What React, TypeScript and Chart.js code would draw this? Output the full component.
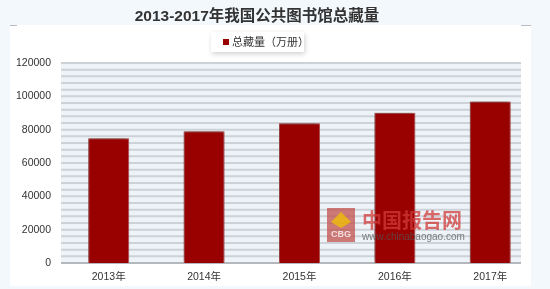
import React, { useEffect, useRef } from "react";
import { Chart, registerables } from "chart.js";

Chart.register(...registerables);

const categories = ["2013年", "2014年", "2015年", "2016年", "2017年"];
const seriesName = "总藏量（万册）";
const values = [74896, 79092, 83844, 90163, 96953];
const yTickValues = [0, 20000, 40000, 60000, 80000, 100000, 120000];
const titleText = "2013-2017年我国公共图书馆总藏量";
const watermarkCn = "中国报告网";
const watermarkUrl = "www.chinabaogao.com";

const FONT = "'Liberation Sans', Arial, 'Noto Sans CJK SC', sans-serif";

const decorPlugin = {
  id: "decor",
  beforeDraw(chart: any) {
    const { ctx, chartArea, scales } = chart;
    const y = scales.y;
    ctx.save();
    ctx.fillStyle = "#f3f8fc";
    ctx.fillRect(0, 0, chart.width, chart.height);
    ctx.fillStyle = "#ffffff";
    ctx.fillRect(10, 25, 521, 261);
    ctx.strokeStyle = "#b8bcc0";
    ctx.lineWidth = 1;
    ctx.beginPath();
    ctx.moveTo(10, 25.5);
    ctx.lineTo(17, 25.5);
    ctx.moveTo(521, 25.5);
    ctx.lineTo(531, 25.5);
    ctx.stroke();

    // title
    ctx.fillStyle = "#333333";
    ctx.font = "bold 15.5px " + FONT;
    ctx.textAlign = "center";
    ctx.textBaseline = "middle";
    ctx.fillText(titleText, 257, 17);

    // legend box
    ctx.save();
    ctx.shadowColor = "rgba(0,0,0,0.18)";
    ctx.shadowBlur = 5;
    ctx.shadowOffsetX = 1;
    ctx.shadowOffsetY = 2;
    ctx.fillStyle = "#ffffff";
    ctx.fillRect(211, 32, 93, 20);
    ctx.restore();
    ctx.fillStyle = "#990000";
    ctx.fillRect(223, 39, 6, 6);
    ctx.fillStyle = "#333333";
    ctx.font = "11px " + FONT;
    ctx.textAlign = "left";
    ctx.fillText(seriesName, 232, 42.5);

    // striped plot background
    const left = chartArea.left;
    const right = 521;
    const top = y.getPixelForValue(120000);
    const bottom = y.getPixelForValue(0);
    ctx.fillStyle = "#eef3f8";
    ctx.fillRect(left, top, right - left, bottom - top);
    ctx.strokeStyle = "#cdd2d8";
    ctx.lineWidth = 2;
    ctx.beginPath();
    for (let v = 0; v <= 120000; v += 4000) {
      const py = y.getPixelForValue(v);
      ctx.moveTo(left, py);
      ctx.lineTo(right, py);
    }
    ctx.stroke();
    ctx.strokeStyle = "#b4b8bd";
    ctx.lineWidth = 2;
    ctx.beginPath();
    ctx.moveTo(left, bottom);
    ctx.lineTo(right, bottom);
    ctx.stroke();
    ctx.restore();
  },
  beforeDatasetsDraw(chart: any) {
    const ctx = chart.ctx;
    ctx.save();
    ctx.shadowColor = "rgba(0,0,0,0.45)";
    ctx.shadowBlur = 4;
    ctx.shadowOffsetX = -1;
    ctx.shadowOffsetY = -1;
  },
  afterDatasetsDraw(chart: any) {
    const ctx = chart.ctx;
    ctx.restore();
    // watermark
    ctx.save();
    ctx.globalAlpha = 0.75;
    ctx.fillStyle = "#c0504d";
    ctx.fillRect(327, 208, 28, 34);
    ctx.fillStyle = "#f2c200";
    ctx.beginPath();
    ctx.moveTo(331, 222);
    ctx.lineTo(341, 212);
    ctx.lineTo(351, 222);
    ctx.lineTo(341, 228);
    ctx.closePath();
    ctx.fill();
    ctx.fillStyle = "#ffffff";
    ctx.font = "bold 9px " + FONT;
    ctx.textAlign = "center";
    ctx.textBaseline = "middle";
    ctx.fillText("CBG", 341, 235);
    ctx.fillStyle = "#d23a3a";
    ctx.font = "bold 20px 'Noto Sans CJK SC', sans-serif";
    ctx.textAlign = "left";
    ctx.fillText(watermarkCn, 362, 220);
    ctx.fillStyle = "#555555";
    ctx.font = "10px " + FONT;
    ctx.fillText(watermarkUrl, 362, 237);
    ctx.restore();
  },
};

export default function App() {
  const ref = useRef<HTMLCanvasElement | null>(null);
  useEffect(() => {
    if (!ref.current) return;
    const chart = new Chart(ref.current, {
      type: "bar",
      data: {
        labels: categories,
        datasets: [
          {
            label: seriesName,
            data: values,
            backgroundColor: "#990000",
            borderColor: "#c85a5a",
            borderWidth: 1,
            barPercentage: 0.43,
            categoryPercentage: 1,
          },
        ],
      },
      options: {
        responsive: false,
        animation: false,
        layout: { padding: { top: 63, right: 12, left: 0, bottom: 0 } },
        plugins: {
          legend: { display: false },
          title: { display: false },
          tooltip: { enabled: false },
        },
        scales: {
          x: {
            grid: { display: false, drawTicks: false },
            border: { display: false },
            ticks: {
              color: "#333333",
              font: { family: FONT, size: 10.5 },
              padding: 8,
            },
            afterFit(scale: any) {
              scale.height = 26;
            },
          },
          y: {
            min: 0,
            max: 120000,
            afterBuildTicks(scale: any) {
              scale.ticks = yTickValues.map((v) => ({ value: v }));
            },
            grid: { display: false, drawTicks: false },
            border: { display: false },
            ticks: {
              color: "#333333",
              font: { family: FONT, size: 10.5 },
              padding: 10,
              callback: (v: any) => String(v),
            },
            afterFit(scale: any) {
              scale.width = 61;
            },
          },
        },
      },
      plugins: [decorPlugin],
    });
    return () => chart.destroy();
  }, []);
  return (
    <div style={{ position: "absolute", left: 0, top: 0, width: 550, height: 289 }}>
      <canvas ref={ref} width={550} height={289} />
    </div>
  );
}
